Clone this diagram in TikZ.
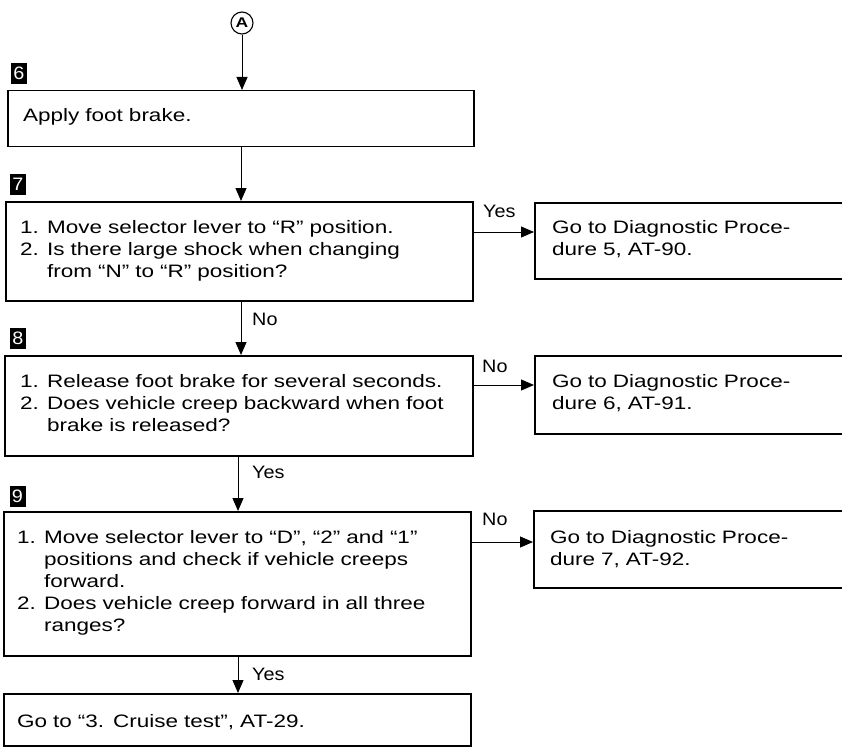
\documentclass[tikz,border=0pt]{standalone}
\usepackage{fontspec}
\setmainfont{Liberation Sans}[FakeStretch=1.25]
\newfontfamily\lblfont{Liberation Sans}[FakeStretch=1.1]
\usetikzlibrary{arrows.meta}
\tikzset{
  box/.style={draw, line width=1.5pt, inner sep=0pt, anchor=north west},
  txt/.style={anchor=base west, inner sep=0pt, text width=#1, align=left,
              font=\fontsize{18}{22}\selectfont},
  txt/.default=455pt,
  lbl/.style={anchor=base west, inner sep=0pt, font=\lblfont\fontsize{18}{22}\selectfont},
  badge/.style={fill=black, text=white, inner sep=0pt, minimum width=16pt,
                minimum height=21pt, font=\lblfont\fontsize{18}{18}\selectfont},
  arr/.style={line width=1pt, -{Triangle[length=13pt,width=11pt]}},
}
\newcommand{\num}[1]{\makebox[27pt][l]{#1}}
\newcommand{\ind}{\hspace*{27pt}}
\begin{document}
\begin{tikzpicture}[x=1pt,y=-1pt]
\useasboundingbox (0,0) rectangle (842,746);
\fill[white] (0,0) rectangle (842,746);
% start connector
\node[circle, draw, line width=1.1pt, minimum size=22pt, inner sep=0pt,
      font=\bfseries\fontsize{14}{14}\selectfont] (A) at (242,23) {A};
\coordinate (sp1) at (241,0);
\coordinate (sp2) at (238,0);
% step badges
\node[badge] (n6) at (19,73.5) {6};
\node[badge] (n7) at (18,184) {7};
\node[badge] (n8) at (18,338) {8};
\node[badge] (n9) at (17.5,496) {9};
% main boxes
\node[box, minimum width=466pt, minimum height=56pt] (b6) at (7,90) {};
\node[box, minimum width=467pt, minimum height=99pt] (b7) at (5,201) {};
\node[box, minimum width=468pt, minimum height=100pt] (b8) at (4,355) {};
\node[box, minimum width=467pt, minimum height=144pt] (b9) at (3,511) {};
\node[box, minimum width=467pt, minimum height=52pt] (b10) at (3,693) {};
% right boxes
\node[box, minimum width=320pt, minimum height=76pt] (r5) at (534,202) {};
\node[box, minimum width=320pt, minimum height=78pt] (r6) at (534,355) {};
\node[box, minimum width=320pt, minimum height=77pt] (r7) at (533,510) {};
% texts
\node[txt] (t6) at (23,122) {Apply foot brake.};
\node[txt] (t7) at (20,233) {\num{1.}Move selector lever to “R” position.\\
  \num{2.}Is there large shock when changing\\ \ind from “N” to “R” position?};
\node[txt] (t8) at (20,387) {\num{1.}Release foot brake for several seconds.\\
  \num{2.}Does vehicle creep backward when foot\\ \ind brake is released?};
\node[txt] (t9) at (17,543) {\num{1.}Move selector lever to “D”, “2” and “1”\\
  \ind positions and check if vehicle creeps\\ \ind forward.\\
  \num{2.}Does vehicle creep forward in all three\\ \ind ranges?};
\node[txt] (t10) at (17,727) {Go to “3. Cruise test”, AT-29.};
\node[txt=280pt] (tr5) at (552,233) {Go to Diagnostic Proce-\\dure 5, AT-90.};
\node[txt=280pt] (tr6) at (552,387) {Go to Diagnostic Proce-\\dure 6, AT-91.};
\node[txt=280pt] (tr7) at (550,543) {Go to Diagnostic Proce-\\dure 7, AT-92.};
% labels
\node[lbl] (l7) at (483,217) {Yes};
\node[lbl] (l7d) at (252,325) {No};
\node[lbl] (l8) at (482,372) {No};
\node[lbl] (l8d) at (252,478) {Yes};
\node[lbl] (l9) at (482,525) {No};
\node[lbl] (l9d) at (252,680) {Yes};
% vertical connectors
\draw[arr] (A.south) -- (A.south |- b6.north);
\draw[arr] (b6.south -| sp1) -- (b7.north -| sp1);
\draw[arr] (b7.south -| sp1) -- (b8.north -| sp1);
\draw[arr] (b8.south -| sp2) -- (b9.north -| sp2);
\draw[arr] (b9.south -| sp2) -- (b10.north -| sp2);
% horizontal connectors
\coordinate (y7) at (0,232);
\coordinate (y8) at (0,385);
\coordinate (y9) at (0,542);
\draw[arr] (b7.east |- y7) -- (r5.west |- y7);
\draw[arr] (b8.east |- y8) -- (r6.west |- y8);
\draw[arr] (b9.east |- y9) -- (r7.west |- y9);
\end{tikzpicture}
\end{document}
